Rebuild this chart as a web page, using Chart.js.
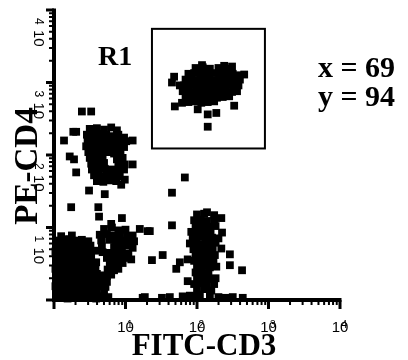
<!DOCTYPE html>
<html>
<head>
<meta charset="utf-8">
<script src="https://cdn.jsdelivr.net/npm/chart.js@4.4.1/dist/chart.umd.min.js"></script>
<style>
  html, body { margin: 0; padding: 0; background: #fff; }
  #wrap { width: 408px; height: 360px; }
</style>
</head>
<body>
<div id="wrap"><canvas id="c" width="408" height="360"></canvas></div>
<script>
// ---- Data (log10 decades of fluorescence intensity: 0 = 10^0 ... 4 = 10^4) ----
const axisTitleX = 'FITC-CD3';
const axisTitleY = 'PE-CD4';
const tickBase = '10';
const tickExponents = [1, 2, 3, 4];
const gateName = 'R1';
const gateX = [1.37, 2.95];
const gateY = [2.09, 3.74];
const gateStats = ['x = 69', 'y = 94'];

// CD3- CD4- (double negative, lower left)
const popDN = [
  [0.03,0.03],[0.11,0.04],[0.19,0.02],[0.27,0.03],[0.35,0.05],[0.43,0.03],[0.51,0.04],[0.59,0.02],[0.68,0.05],[0.76,0.04],
  [0.04,0.11],[0.12,0.12],[0.20,0.10],[0.28,0.11],[0.36,0.12],[0.44,0.10],[0.52,0.11],[0.60,0.12],[0.70,0.11],
  [0.02,0.19],[0.10,0.20],[0.18,0.18],[0.26,0.19],[0.34,0.20],[0.42,0.18],[0.50,0.19],[0.58,0.20],[0.66,0.19],
  [0.03,0.27],[0.11,0.28],[0.19,0.26],[0.27,0.27],[0.35,0.28],[0.43,0.26],[0.51,0.27],[0.59,0.28],
  [0.04,0.35],[0.12,0.36],[0.20,0.34],[0.28,0.35],[0.36,0.36],[0.44,0.34],[0.52,0.35],[0.60,0.36],
  [0.02,0.43],[0.10,0.44],[0.18,0.42],[0.26,0.43],[0.34,0.44],[0.42,0.42],[0.50,0.43],[0.58,0.44],
  [0.03,0.51],[0.11,0.52],[0.19,0.50],[0.27,0.51],[0.35,0.52],[0.43,0.50],[0.51,0.51],[0.59,0.52],
  [0.04,0.59],[0.12,0.60],[0.20,0.58],[0.28,0.59],[0.36,0.60],[0.44,0.58],[0.52,0.59],
  [0.02,0.67],[0.10,0.68],[0.18,0.66],[0.26,0.67],[0.34,0.68],[0.42,0.66],[0.50,0.67],[0.58,0.68],
  [0.03,0.75],[0.11,0.76],[0.19,0.74],[0.27,0.75],[0.35,0.76],[0.43,0.74],[0.51,0.75],
  [0.04,0.82],[0.13,0.83],[0.21,0.84],[0.30,0.82],[0.39,0.83],[0.48,0.81],
  [0.25,0.89],[0.10,0.88],
  [0.80,1.05],[0.95,1.13],
  [0.70,0.98],[0.81,1.00],[0.90,0.96],[1.00,0.97],[1.20,0.98],[1.31,0.95],
  [0.64,0.90],[0.74,0.91],[0.83,0.89],[0.92,0.90],[1.02,0.88],[1.10,0.89],
  [0.66,0.82],[0.77,0.83],[0.86,0.81],[0.95,0.82],[1.04,0.80],[1.12,0.81],
  [0.67,0.74],[0.84,0.73],[0.93,0.74],[1.02,0.75],[1.10,0.72],
  [0.68,0.66],[0.77,0.65],[0.86,0.67],[0.95,0.66],[1.04,0.64],
  [0.74,0.58],[0.83,0.57],[0.92,0.59],[1.00,0.58],[1.08,0.56],
  [0.78,0.50],[0.87,0.49],[0.96,0.51],
  [0.75,0.42],[0.84,0.41],[0.90,0.43],
  [0.66,0.34],[0.74,0.33],[0.80,0.35],
  [0.68,0.26],[0.74,0.25],
  [0.72,0.18]
];

// CD4+ CD3- (upper left)
const popCD4 = [
  [0.50,2.36],[0.60,2.37],[0.70,2.35],[0.80,2.38],[0.88,2.34],
  [0.46,2.28],[0.55,2.27],[0.64,2.29],[0.73,2.28],[0.82,2.26],[0.90,2.28],[0.98,2.24],
  [0.47,2.20],[0.56,2.19],[0.65,2.21],[0.74,2.20],[0.83,2.18],[0.92,2.20],[1.01,2.19],
  [0.45,2.12],[0.54,2.11],[0.63,2.13],[0.72,2.12],[0.81,2.10],[0.90,2.12],[0.98,2.11],
  [0.48,2.04],[0.57,2.03],[0.66,2.05],[0.75,2.04],[0.84,2.02],[0.93,2.04],
  [0.50,1.96],[0.59,1.95],[0.68,1.97],[0.88,1.94],[0.96,1.96],
  [0.52,1.88],[0.61,1.87],[0.70,1.89],[0.90,1.87],[0.99,1.87],
  [0.53,1.80],[0.62,1.79],[0.71,1.81],[0.80,1.80],[0.89,1.78],[0.98,1.80],
  [0.56,1.72],[0.65,1.71],[0.74,1.73],[0.83,1.72],[0.92,1.70],
  [0.60,1.64],[0.69,1.63],[0.78,1.65],[0.87,1.64],[0.94,1.59],
  [0.39,2.60],[0.52,2.60],[0.27,2.32],[0.31,2.32],[0.14,2.20],[1.10,2.20],[1.10,1.87],
  [0.22,1.98],[0.28,1.94],[0.31,1.76],[0.49,1.51],[0.71,1.46],[0.24,1.28],[0.62,1.28],
  [0.63,1.15],[0.99,1.66]
];

// CD4+ CD3+ (gate R1)
const popR1 = [
  [1.98,3.20],[2.08,3.21],[2.18,3.19],[2.30,3.20],[2.40,3.18],[2.48,3.19],
  [1.88,3.12],[1.96,3.13],[2.05,3.11],[2.14,3.12],[2.22,3.13],[2.31,3.11],[2.40,3.12],[2.50,3.12],[2.57,3.10],
  [1.84,3.04],[1.92,3.05],[2.00,3.03],[2.09,3.04],[2.17,3.05],[2.26,3.03],[2.34,3.04],[2.43,3.05],[2.52,3.03],[2.60,3.04],
  [1.82,2.96],[1.90,2.97],[1.99,2.95],[2.07,2.96],[2.16,2.97],[2.25,2.95],[2.33,2.96],[2.42,2.97],[2.51,2.95],[2.58,2.96],
  [1.80,2.88],[1.88,2.89],[1.97,2.87],[2.05,2.88],[2.14,2.89],[2.23,2.87],[2.31,2.88],[2.40,2.89],[2.49,2.87],[2.56,2.88],
  [1.84,2.80],[1.93,2.81],[2.01,2.79],[2.10,2.80],[2.19,2.81],[2.28,2.79],[2.36,2.80],[2.45,2.81],
  [1.88,2.73],[1.97,2.74],[2.06,2.72],[2.15,2.73],[2.24,2.74],
  [1.68,3.08],[1.65,3.00],[1.76,2.96],[2.07,3.24],[2.38,3.23],[2.49,3.22],[2.66,3.11],
  [1.69,2.67],[1.79,2.72],[2.01,2.63],[2.15,2.56],[2.27,2.58],[2.52,2.68],[2.15,2.39]
];

// CD3+ CD4- (lower middle)
const popCD3 = [
  [2.00,1.18],[2.10,1.19],[2.24,1.17],
  [1.96,1.10],[2.05,1.11],[2.14,1.09],[2.24,1.10],
  [1.98,1.02],[2.07,1.03],[2.16,1.01],[2.26,1.02],
  [1.92,0.94],[2.01,0.95],[2.10,0.93],[2.19,0.94],
  [1.94,0.86],[2.03,0.87],[2.12,0.85],[2.21,0.86],[2.30,0.85],
  [1.90,0.78],[1.99,0.79],[2.08,0.77],[2.17,0.78],[2.26,0.79],
  [1.95,0.70],[2.04,0.71],[2.13,0.69],[2.22,0.70],[2.34,0.71],
  [1.98,0.62],[2.07,0.63],[2.16,0.61],[2.25,0.62],
  [1.96,0.54],[2.05,0.55],[2.14,0.53],[2.23,0.54],
  [2.00,0.46],[2.09,0.47],[2.18,0.45],[2.27,0.46],
  [1.98,0.38],[2.07,0.39],[2.16,0.37],
  [2.00,0.30],[2.09,0.31],[2.18,0.29],[2.26,0.30],
  [1.96,0.22],[2.05,0.23],[2.14,0.21],[2.24,0.22],
  [2.00,0.14],[2.10,0.15],[2.20,0.13],
  [1.83,1.69],[1.65,1.48],[1.34,0.95],[1.65,1.03],[1.52,0.62],[1.37,0.55],[1.76,0.52],[1.71,0.43],
  [2.34,1.13],[2.35,0.93],[2.46,0.63],[2.46,0.48],[2.63,0.41],[1.87,0.56],[1.87,0.26],[2.14,1.21],
  [1.24,0.03],[1.27,0.04],[1.51,0.03],[1.62,0.04],[1.80,0.05],[1.90,0.06],[1.99,0.05],[2.04,0.07],
  [2.18,0.05],[2.30,0.04],[2.40,0.03],[2.50,0.04],[2.64,0.03]
];

// ---- Chart ----
const toPts = arr => arr.map(p => ({x: p[0], y: p[1]}));
const serif = '"Liberation Serif", "Times New Roman", serif';
const sans = '"Liberation Sans", Arial, sans-serif';

const flowAxes = {
  id: 'flowAxes',
  afterDatasetsDraw(chart) {
    const {ctx, chartArea: a, scales: {x, y}} = chart;
    ctx.save();
    ctx.fillStyle = '#000';
    ctx.strokeStyle = '#000';
    ctx.lineCap = 'butt';

    const xMaxPx = x.getPixelForValue(4);
    const yMaxPx = y.getPixelForValue(4);
    // minor / major ticks
    for (let d = 0; d < 4; d++) {
      for (let k = 1; k <= 9; k++) {
        const v = d + Math.log10(k);
        const major = k === 1;
        const px = x.getPixelForValue(v);
        const py = y.getPixelForValue(v);
        ctx.lineWidth = major ? 3 : 2;
        ctx.beginPath();
        ctx.moveTo(px, a.bottom); ctx.lineTo(px, a.bottom + (major ? 9 : 5));
        ctx.moveTo(a.left, py); ctx.lineTo(a.left - (major ? 8 : 5), py);
        ctx.stroke();
      }
    }
    ctx.lineWidth = 3;
    ctx.beginPath();
    ctx.moveTo(xMaxPx, a.bottom); ctx.lineTo(xMaxPx, a.bottom + 9);
    ctx.moveTo(a.left, yMaxPx); ctx.lineTo(a.left - 8, yMaxPx);
    ctx.stroke();

    // axis lines
    ctx.lineWidth = 4;
    ctx.beginPath();
    ctx.moveTo(a.left, yMaxPx - 1.5);
    ctx.lineTo(a.left, a.bottom);
    ctx.lineTo(xMaxPx + 1.5, a.bottom);
    ctx.stroke();

    // x tick labels
    tickExponents.forEach(e => {
      const px = x.getPixelForValue(e);
      ctx.font = '15px ' + sans;
      ctx.textAlign = 'center';
      ctx.textBaseline = 'alphabetic';
      ctx.fillText(tickBase, px, 332);
      ctx.font = '10px ' + sans;
      ctx.fillText(String(e), px + 4.2, 328);
    });
    // y tick labels (rotated clockwise)
    tickExponents.forEach(e => {
      const py = y.getPixelForValue(e);
      ctx.save();
      ctx.translate(34, py + 8);
      ctx.rotate(Math.PI / 2);
      ctx.textAlign = 'left';
      ctx.textBaseline = 'alphabetic';
      ctx.font = '12px ' + sans;
      ctx.fillText(String(e), 0, -1);
      ctx.font = '15px ' + sans;
      ctx.fillText(tickBase, 12, 0);
      ctx.restore();
    });

    // axis titles
    ctx.font = 'bold 31px ' + serif;
    ctx.textAlign = 'center';
    ctx.fillText(axisTitleX, 204, 355);
    ctx.save();
    ctx.translate(37, 166);
    ctx.rotate(-Math.PI / 2);
    ctx.font = 'bold 33px ' + serif;
    ctx.fillText(axisTitleY, 0, 0);
    ctx.restore();

    // gate
    const gx0 = x.getPixelForValue(gateX[0]), gx1 = x.getPixelForValue(gateX[1]);
    const gy0 = y.getPixelForValue(gateY[0]), gy1 = y.getPixelForValue(gateY[1]);
    ctx.lineWidth = 2;
    ctx.strokeRect(gx0, gy1, gx1 - gx0, gy0 - gy1);

    ctx.textAlign = 'left';
    ctx.font = 'bold 28px ' + serif;
    ctx.fillText(gateName, 98, 65);
    ctx.font = 'bold 30px ' + serif;
    ctx.fillText(gateStats[0], 318, 77);
    ctx.fillText(gateStats[1], 318, 106);
    ctx.restore();
  }
};

const ds = (label, arr) => ({
  label, data: toPts(arr), pointStyle: 'rect', pointRadius: 5.5, pointHoverRadius: 5.5,
  backgroundColor: '#000', borderColor: '#000', borderWidth: 0, showLine: false, clip: false
});

new Chart(document.getElementById('c'), {
  type: 'scatter',
  data: { datasets: [
    ds('CD3-CD4-', popDN), ds('CD4+CD3-', popCD4), ds('R1', popR1), ds('CD3+CD4-', popCD3)
  ]},
  options: {
    responsive: false, animation: false, devicePixelRatio: 1,
    layout: { padding: { left: 54, right: 68, top: 10, bottom: 60 } },
    plugins: { legend: { display: false }, tooltip: { enabled: false } },
    scales: {
      x: { type: 'linear', min: 0, max: 4, display: false },
      y: { type: 'linear', min: 0, max: 4, display: false }
    }
  },
  plugins: [flowAxes]
});
</script>
</body>
</html>
